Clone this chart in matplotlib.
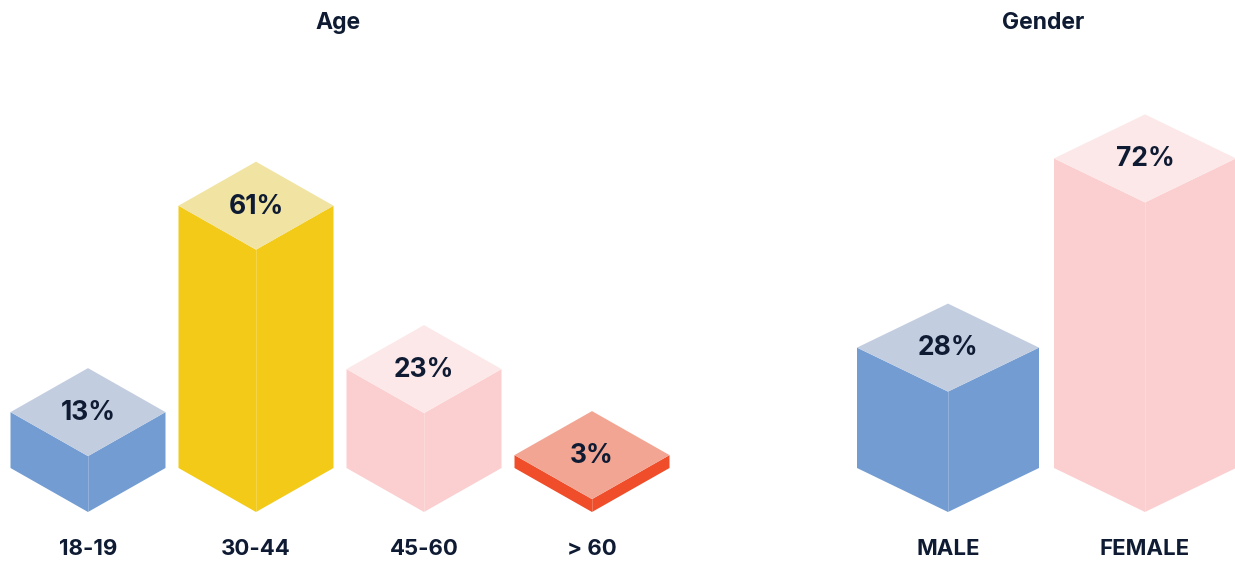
import matplotlib
matplotlib.use("Agg")
import matplotlib.pyplot as plt
from matplotlib.patches import Polygon

# ---- data ----
age_categories = ["18-19", "30-44", "45-60", "> 60"]
age_values = [13, 61, 23, 3]
gender_categories = ["MALE", "FEMALE"]
gender_values = [28, 72]

# ---- styles ----
age_top_colors = ["#C3CDE0", "#F1E3A1", "#FCE8E8", "#F2A593"]
age_side_colors = ["#739DD2", "#F3CA17", "#FBCFD0", "#F04E2A"]
gender_top_colors = ["#C3CDE0", "#FCE8E8"]
gender_side_colors = ["#739DD2", "#FBCFD0"]
TEXT = "#0E1B33"
FONT = ["Inter", "DejaVu Sans"]

W, H = 1235, 563
PX_PER_PCT = 4.3      # vertical scale: pixels per percentage point
GROUND_PX = 468       # pixel row of the side-bottom corners
DIAMOND_PX = 44       # half height of the top rhombus in pixels

fig = plt.figure(figsize=(W / 100, H / 100), dpi=100)
ax = fig.add_axes([0, 0, 1, 1])
ax.set_xlim(0, W)
ax.set_ylim(-(H - GROUND_PX) / PX_PER_PCT, GROUND_PX / PX_PER_PCT)
ax.axis("off")


def py(px):
    """pixel row -> y data units"""
    return (GROUND_PX - px) / PX_PER_PCT


dy = DIAMOND_PX / PX_PER_PCT


def draw_bar(cx, hw, v, top_c, side_c, label):
    left = [(cx - hw, v), (cx, v - dy), (cx, -dy), (cx - hw, 0)]
    right = [(cx, v - dy), (cx + hw, v), (cx + hw, 0), (cx, -dy)]
    top = [(cx - hw, v), (cx, v + dy), (cx + hw, v), (cx, v - dy)]
    ax.add_patch(Polygon(left, closed=True, facecolor=side_c, edgecolor="none"))
    ax.add_patch(Polygon(right, closed=True, facecolor=side_c, edgecolor="none"))
    ax.plot([cx, cx], [v - dy, -dy], color="white", lw=0.6, alpha=0.25)
    ax.add_patch(Polygon(top, closed=True, facecolor=top_c, edgecolor="none"))
    ax.text(cx, v - 0.2, label, ha="center", va="center", fontsize=19,
            fontweight="bold", color=TEXT, family=FONT)


# Age panel
age_x0, age_step, age_hw = 88, 168, 77.5
for i, (cat, val) in enumerate(zip(age_categories, age_values)):
    cx = age_x0 + i * age_step
    draw_bar(cx, age_hw, val, age_top_colors[i], age_side_colors[i], f"{val}%")
    ax.text(cx, py(549), cat, ha="center", va="center", fontsize=16,
            fontweight="bold", color=TEXT, family=FONT)

# Gender panel
gender_x = [948, 1145]
gender_hw = 91
for i, (cat, val) in enumerate(zip(gender_categories, gender_values)):
    cx = gender_x[i]
    draw_bar(cx, gender_hw, val, gender_top_colors[i], gender_side_colors[i], f"{val}%")
    ax.text(cx, py(549), cat, ha="center", va="center", fontsize=16,
            fontweight="bold", color=TEXT, family=FONT)

ax.text(338, py(23), "Age", ha="center", va="center", fontsize=16.5,
        fontweight="bold", color=TEXT, family=FONT)
ax.text(1043, py(23), "Gender", ha="center", va="center", fontsize=16.5,
        fontweight="bold", color=TEXT, family=FONT)

fig.savefig("out.png", dpi=100)
